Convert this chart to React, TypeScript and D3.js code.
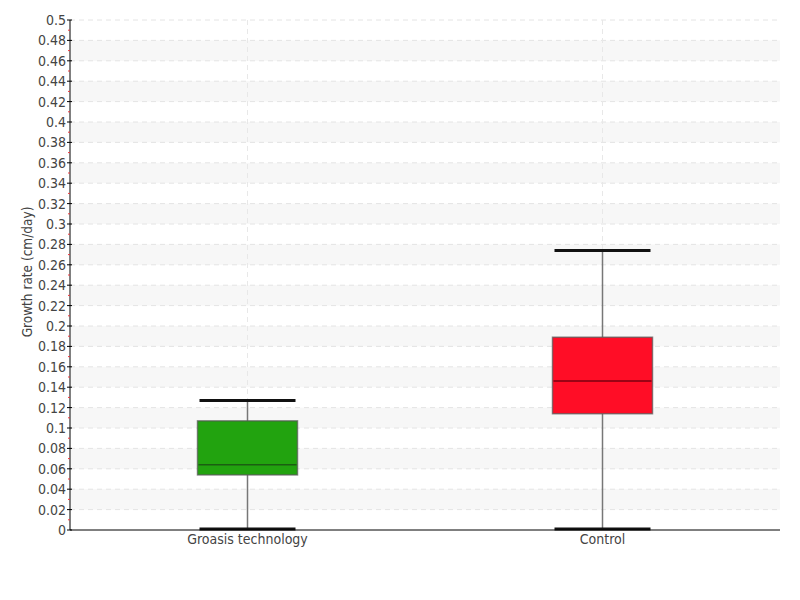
import React from "react";
import * as d3 from "d3";

const categories = ["Groasis technology", "Control"];
const whiskerLow = [0, 0];
const q1 = [0.054, 0.114];
const median = [0.064, 0.146];
const q3 = [0.107, 0.189];
const whiskerHigh = [0.127, 0.274];
const fills = ["#22a30f", "#ff0d26"];
const medianColors = ["#1b5e12", "#7a0010"];
const yTicks = d3.range(0, 0.5001, 0.02).map((v) => +v.toFixed(2));
const yMinor = d3.range(0.01, 0.5, 0.02).map((v) => +v.toFixed(2));

const W = 800, H = 600;
const left = 70, right = 780, top = 20, bottom = 530;
const font = "'Liberation Sans Narrow', 'DejaVu Sans Condensed', 'Roboto', sans-serif";

export default function App() {
  const y = d3.scaleLinear().domain([0, 0.5]).range([bottom, top]);
  const x = d3.scaleBand().domain(categories).range([left, right]);
  const boxW = 100;
  const capW = 96;
  const fmt = (v: number) => (v === 0 ? "0" : String(+v.toFixed(2)));
  return (
    <svg width={W} height={H} style={{ position: "absolute", left: 0, top: 0, fontFamily: font }}>
      <rect x={0} y={0} width={W} height={H} fill="#fff" />
      {yTicks.slice(0, -1).map((v, i) =>
        i % 2 === 1 ? (
          <rect key={"b" + i} x={left + 1} y={y(v + 0.02)} width={right - left - 1} height={y(v) - y(v + 0.02)} fill="#f7f7f7" />
        ) : null
      )}
      {yTicks.slice(1).map((v, i) => (
        <line key={"g" + i} x1={left} x2={right - 3} y1={y(v)} y2={y(v)} stroke="#e4e4e4" strokeDasharray="5,4" />
      ))}
      {categories.map((c) => (
        <line key={"v" + c} x1={x(c)! + x.bandwidth() / 2} x2={x(c)! + x.bandwidth() / 2} y1={top} y2={bottom} stroke="#e8e8e8" strokeDasharray="5,4" />
      ))}
      {categories.map((c, i) => {
        const cx = x(c)! + x.bandwidth() / 2;
        return (
          <g key={c}>
            <line x1={cx} x2={cx} y1={y(whiskerLow[i])} y2={y(q1[i])} stroke="#777" strokeWidth={1.5} />
            <line x1={cx} x2={cx} y1={y(q3[i])} y2={y(whiskerHigh[i])} stroke="#777" strokeWidth={1.5} />
            <rect x={cx - boxW / 2} y={y(q3[i])} width={boxW} height={y(q1[i]) - y(q3[i])} fill={fills[i]} stroke="#555" strokeOpacity={0.7} strokeWidth={1.5} />
            <line x1={cx - boxW / 2 + 1} x2={cx + boxW / 2 - 1} y1={y(median[i])} y2={y(median[i])} stroke={medianColors[i]} strokeWidth={1.5} />
            <line x1={cx - capW / 2} x2={cx + capW / 2} y1={y(whiskerHigh[i])} y2={y(whiskerHigh[i])} stroke="#111" strokeWidth={3} />
            <line x1={cx - capW / 2} x2={cx + capW / 2} y1={y(whiskerLow[i]) - 1} y2={y(whiskerLow[i]) - 1} stroke="#111" strokeWidth={3} />
          </g>
        );
      })}
      <line x1={left} x2={left} y1={top} y2={bottom} stroke="#000" />
      <line x1={left} x2={right} y1={bottom} y2={bottom} stroke="#000" />
      {yMinor.map((v) => (
        <line key={"m" + v} x1={left - 2} x2={left} y1={y(v)} y2={y(v)} stroke="#e8383d" strokeWidth={1} />
      ))}
      {yTicks.map((v) => (
        <g key={"t" + v}>
          <line x1={left - 3} x2={left + 2} y1={y(v)} y2={y(v)} stroke="#000" />
          <text x={left - 4} y={y(v)} dy="0.35em" textAnchor="end" fontSize={14} fill="#444" style={{ fontStretch: "condensed" }}>
            {fmt(v)}
          </text>
        </g>
      ))}
      {categories.map((c) => (
        <text key={"x" + c} x={x(c)! + x.bandwidth() / 2} y={544} textAnchor="middle" fontSize={14} fill="#444">
          {c}
        </text>
      ))}
      <text transform={`translate(32,${272}) rotate(-90)`} textAnchor="middle" fontSize={13.5} fill="#444">
        Growth rate (cm/day)
      </text>
    </svg>
  );
}
